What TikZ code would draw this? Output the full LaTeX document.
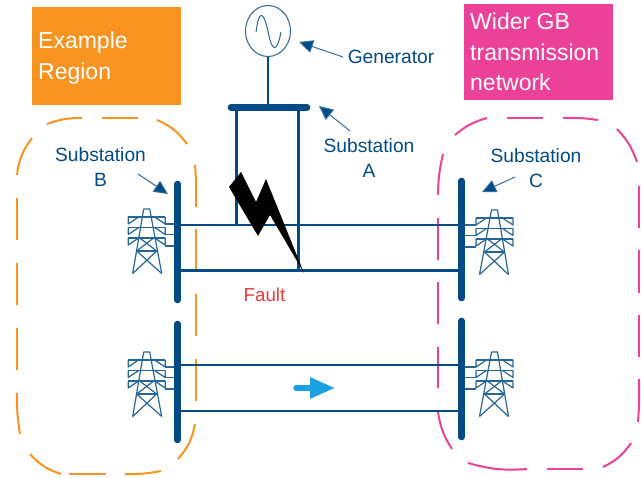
\documentclass[tikz,border=0pt]{standalone}
\usepackage{fontspec}
\setmainfont{Liberation Sans}
\usetikzlibrary{arrows.meta,positioning,shapes.geometric}

\definecolor{gridblue}{HTML}{004A86}
\definecolor{regionorange}{HTML}{F7931E}
\definecolor{regionpink}{HTML}{EC4199}
\definecolor{faultred}{HTML}{EE3B3B}
\definecolor{flowcyan}{HTML}{1BA1E2}

\tikzset{
    bus/.style={draw=gridblue, line width=6.6pt, line cap=round},
    wire/.style={draw=gridblue, line width=2.7pt},
    pointer/.style={draw=gridblue!80!white, line width=1pt, -{Triangle[length=14pt,width=13pt,fill=gridblue]}},
    sublabel/.style={text=gridblue, font=\fontsize{19.2}{25}\selectfont, align=center, inner sep=0pt},
    region/.style={line width=2pt},
    banner/.style={font=\fontsize{23}{30.5}\selectfont, text=white, align=left, inner sep=0pt, anchor=north west},
    pylon/.pic={
        \begin{scope}[draw=gridblue!85!white, line width=1.2pt, line join=round]
            \draw (-14,64.5) -- (-3,0) -- (3,0) -- (15,64.5);
            \foreach \y in {8,18.5,29} {
                \draw (-18.5,\y) -- (18.5,\y);
                \draw (-8,\y) -- (-18.5,\y+7) -- (-18.5,\y);
                \draw (8,\y) -- (18.5,\y+7) -- (18.5,\y);
            }
            % lattice of the lower body
            \draw (-7,29) -- (10,42) -- (-14,64.5);
            \draw (7,29) -- (-10,42) -- (15,64.5);
            \draw (-10,42) -- (10,42);
            % conductors going to the busbar
            \draw[line width=1.8pt] (32,15) -- (18.5,15);
            \draw[line width=1.8pt] (32,25.5) -- (18.5,25.5);
            \draw[line width=1.8pt] (32,37) -- (18.5,37);
        \end{scope}
    }
}

\begin{document}
\begin{tikzpicture}[x=1pt, y=-1pt]

        \useasboundingbox (0,0) rectangle (641,478);

        % Dashed regions, dash by dash and clockwise
        \foreach \xa/\ya/\xb/\yb/\c in {17/175/32/138/15, 47/124/82/118/10, 102/118/138/118/0,
            157/120/187/144/15, 195/165/196/207/3, 196/229/196/272/0, 196/294/196/336/0,
            196/359/196/401/0, 195/424/178/459/15, 161/471/125/474/6, 106/474/69/474/0,
            61/474/30/454/15, 20/434/17/393/5, 17/370/17/328/0, 17/305/17/263/0, 17/240/17/198/0}
        \draw[region, regionorange] (\xa,\ya) to[bend left=\c] (\xb,\yb);

        \foreach \xa/\ya/\xb/\yb/\c in {438/195/443/154/6, 455/135/487/118/12, 507/118/543/118/0,
            563/118/598/120/5, 617/129/637/162/12, 639/186/639/228/0, 639/250/639/293/0,
            639/315/639/357/0, 639/379/638/422/3, 631/443/603/467/15, 583/469/547/469/0,
            527/469/468/463/10, 452/449/438/412/12, 438/388/438/347/0, 438/324/438/282/0, 438/260/438/218/0}
        \draw[region, regionpink] (\xa,\ya) to[bend left=\c] (\xb,\yb);

        % The two coloured boxes
        \fill[regionorange] (32,7) rectangle (181,105);
        \fill[regionpink] (464,4) rectangle (613,100);
        \node (TitleExample) [banner] at (38,32) {Example\\Region};
        \node (TitleWider) [banner] at (470,13) {Wider GB\\transmission\\network};

        % End points of the busbars
        \coordinate (A1) at (231,107.5);
        \coordinate (A2) at (307,107.5);
        \coordinate (B1) at (177.7,184);
        \coordinate (B2) at (177.7,300);
        \coordinate (B3) at (177.7,324);
        \coordinate (B4) at (177.7,440);
        \coordinate (C1) at (461.7,181);
        \coordinate (C2) at (461.7,298);
        \coordinate (C3) at (461.7,321);
        \coordinate (C4) at (461.7,437);

        % Where the lines meet the busbars
        \coordinate (L1) at (177.7,225);
        \coordinate (R1) at (461.7,225);
        \coordinate (L2) at (177.7,270.5);
        \coordinate (R2) at (461.7,270.5);
        \coordinate (L3) at (177.7,365);
        \coordinate (R3) at (461.7,365);
        \coordinate (L4) at (177.7,411);
        \coordinate (R4) at (461.7,411);
        \coordinate (T1) at (236.7,107.5);
        \coordinate (T2) at (298.3,107.5);
        \coordinate (J1) at (236.7,225);
        \coordinate (J2) at (298.3,270.5);
        \coordinate (GenBus) at (268,107.5);

        \node (Gen) [draw=gridblue!85!white, line width=1pt, ellipse, minimum width=45pt, minimum height=51pt, inner sep=0pt] at (268,31) {};
        \draw[gridblue!85!white, line width=1pt] (256,32) .. controls (259,10) and (263,10) .. (268,31) .. controls (272,53) and (277,53) .. (281,32);

        % Towers beside the busbars
        \pic at (146.7,209) {pylon};
        \pic at (146.7,352) {pylon};
        \pic[xscale=-1] at (494.5,210) {pylon};
        \pic[xscale=-1] at (494.5,352) {pylon};

        \begin{scope}
            \foreach \x in {1,...,4}
            \draw[wire] (L\x) -- (R\x);
            \draw[wire] (T1) -- (J1);
            \draw[wire] (T2) -- (J2);
            \draw[wire] (Gen) -- (GenBus);
        \end{scope}

        \begin{scope}
            \draw[bus] (A1) -- (A2);
            \draw[bus] (B1) -- (B2);
            \draw[bus] (B3) -- (B4);
            \draw[bus] (C1) -- (C2);
            \draw[bus] (C3) -- (C4);
        \end{scope}

        % Fault bolt
        \fill[black] (241,172) -- (256,202) -- (266,179) -- (304,273) -- (270,215) -- (258,236) -- (229,187) -- cycle;
        \node (Fault) [text=faultred, font=\fontsize{18.8}{22}\selectfont, inner sep=0pt] at (264.5,295) {Fault};

        % Labels with their pointers
        \node (LabelGen) [sublabel] at (391,57) {Generator};
        \node (LabelA) [sublabel] at (369,158) {Substation\\A};
        \node (LabelB) [sublabel] at (100.5,167.5) {Substation\\B};
        \node (LabelC) [sublabel] at (536,168) {Substation\\C};
        \coordinate (TailGen) at (343,57);
        \coordinate (TailA) at (350,131);
        \coordinate (TailB) at (138,174);
        \coordinate (TailC) at (515,177);
        \coordinate (TipGen) at (299,42);
        \coordinate (TipA) at (319,106);
        \coordinate (TipB) at (168,194);
        \coordinate (TipC) at (482,192);
        \draw[pointer] (TailGen) -- (TipGen);
        \draw[pointer] (TailA) -- (TipA);
        \draw[pointer] (TailB) -- (TipB);
        \draw[pointer] (TailC) -- (TipC);

        % Power flow
        \coordinate (FlowA) at (296,388);
        \coordinate (FlowB) at (335,388);
        \draw[flowcyan, line width=5.5pt, line cap=round, -{Triangle[length=25pt,width=20pt]}] (FlowA) -- (FlowB);

\end{tikzpicture}
\end{document}
